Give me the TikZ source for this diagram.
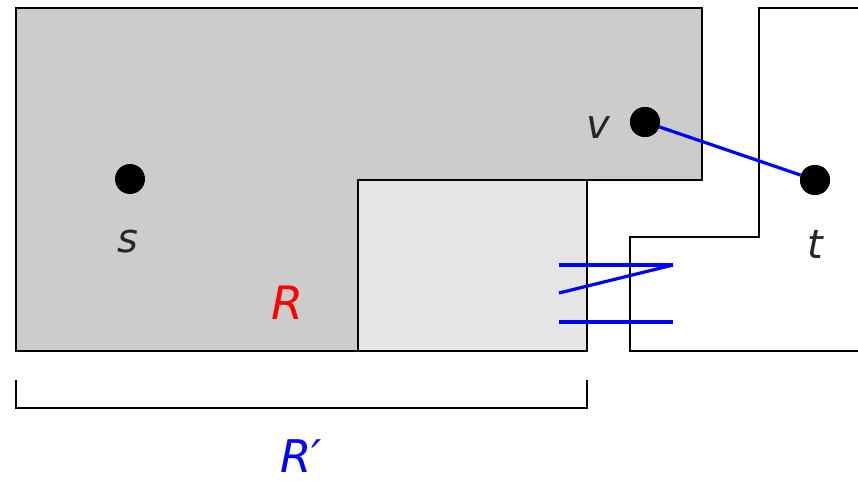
\documentclass[tikz,border=0pt]{standalone}
\usepackage{fontspec}
\setmainfont{DejaVu Sans}
\begin{document}
\begin{tikzpicture}[x=1pt,y=-1pt,
  outline/.style={draw=black,line width=1.6pt},
  dot/.style={circle,fill=black,inner sep=0pt,minimum size=30pt},
  lbl/.style={font=\fontsize{40}{48}\selectfont\itshape,text=black!85,inner sep=0pt},
  blueline/.style={draw=blue,line width=3.2pt}]
\useasboundingbox (0,0) rectangle (858,481);
\clip (0,0) rectangle (858,481);
% dark region R
\filldraw[fill=black!20,outline] (16,8) -- (702,8) -- (702,180) -- (358,180) -- (358,351) -- (16,351) -- cycle;
% light rectangle
\filldraw[fill=black!10,outline] (358,180) rectangle (587,351);
% right shape
\draw[outline] (870,8) -- (759,8) -- (759,237) -- (630,237) -- (630,351) -- (870,351);
% blue cut lines
\coordinate (a1) at (559,265); \coordinate (a2) at (673,265);
\coordinate (b1) at (559,293);
\coordinate (c1) at (559,322); \coordinate (c2) at (673,322);
\draw[blueline] (a1) -- (a2);
\draw[blueline] (b1) -- (a2);
\draw[blueline] (c1) -- (c2);
% dots
\node[dot] (s) at (130,179) {};
\node[dot] (v) at (645,122) {};
\node[dot] (t) at (815,180) {};
\draw[blueline] (v) -- (t);
\node[dot] at (v) {};
\node[dot] at (t) {};
% labels
\node[lbl] (ls) at (128,242) {s};
\node[lbl] (lv) at (598,128) {v};
\node[lbl] (lt) at (815,244) {t};
\node[lbl,text=red,font=\fontsize{46}{54}\selectfont\itshape] (lR) at (287,303) {R};
% bracket
\draw[draw=black,line width=1.6pt] (16,380) -- (16,408) -- (587,408) -- (587,380);
\node[lbl,text=blue,font=\fontsize{45}{54}\selectfont\itshape] (lRp) at (301,456) {R′};
\end{tikzpicture}
\end{document}
